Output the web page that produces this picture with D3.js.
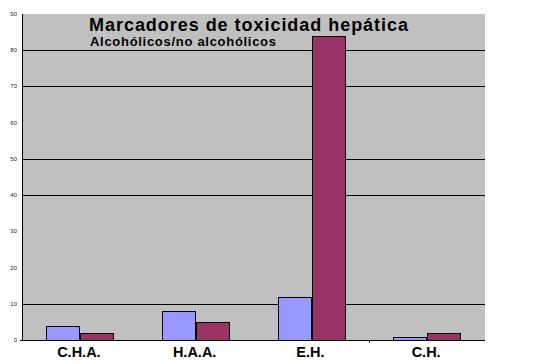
<!DOCTYPE html>
<html>
<head>
<meta charset="utf-8">
<script src="https://cdn.jsdelivr.net/npm/d3@7"></script>
<style>
  html, body { margin: 0; padding: 0; background: #fff; }
  svg { display: block; }
</style>
</head>
<body>
<svg id="chart" width="549" height="364"></svg>
<script>
const categories = ["C.H.A.", "H.A.A.", "E.H.", "C.H."];
const series = ["Alcohólicos", "No alcohólicos"];
const alcoholicos = [4, 8, 12, 0.8];
const noAlcoholicos = [2, 5, 84, 2];
const yTicks = [0, 10, 20, 30, 40, 50, 60, 70, 80, 90];
const gridValues = [10, 40, 50, 70, 80];
const colors = ["#9999FF", "#993366"];
const title = "Marcadores de toxicidad hepática";
const subtitle = "Alcohólicos/no alcohólicos";

(function () {
const svg = d3.select("#chart");
const pLeft = 22, pRight = 485, pTop = 14, pBottom = 340;

const x = d3.scaleBand().domain(categories).range([pLeft, pRight]).paddingInner(0).paddingOuter(0);
const x1 = d3.scaleBand().domain(series).range([0, x.bandwidth()]).paddingInner(0).paddingOuter(0.73);
const y = d3.scaleLinear().domain([0, 90]).range([pBottom, pTop]);

// plot area
svg.append("rect").attr("x", pLeft).attr("y", pTop).attr("width", pRight - pLeft).attr("height", pBottom - pTop)
  .attr("fill", "#C0C0C0");

// gridlines
svg.append("g").selectAll("line").data(gridValues).join("line")
  .attr("x1", pLeft).attr("x2", pRight)
  .attr("y1", d => Math.round(y(d)) + 0.5).attr("y2", d => Math.round(y(d)) + 0.5)
  .attr("stroke", "#000").attr("stroke-width", 1).attr("shape-rendering", "crispEdges");

// bars
const rows = categories.map((c, i) => ({ cat: c, vals: [alcoholicos[i], noAlcoholicos[i]] }));
const g = svg.append("g").selectAll("g").data(rows).join("g")
  .attr("transform", d => `translate(${x(d.cat)},0)`);
g.selectAll("rect").data(d => d.vals.map((v, j) => ({ s: series[j], v, j }))).join("rect")
  .attr("x", d => Math.round(x1(d.s)) + 0.5)
  .attr("y", d => Math.round(y(d.v)) + 0.5)
  .attr("width", Math.round(x1.bandwidth()))
  .attr("height", d => Math.max(0, pBottom - Math.round(y(d.v))))
  .attr("fill", d => colors[d.j])
  .attr("stroke", "#000").attr("stroke-width", 1).attr("shape-rendering", "crispEdges");

// axes lines
svg.append("line").attr("x1", pLeft + 0.5).attr("x2", pLeft + 0.5).attr("y1", pTop).attr("y2", pBottom + 1)
  .attr("stroke", "#000").attr("shape-rendering", "crispEdges");
svg.append("line").attr("x1", pLeft - 2).attr("x2", pRight).attr("y1", pBottom + 0.5).attr("y2", pBottom + 0.5)
  .attr("stroke", "#000").attr("shape-rendering", "crispEdges");
svg.append("line").attr("x1", Math.round(x(categories[3])) + 0.5).attr("x2", Math.round(x(categories[3])) + 0.5)
  .attr("y1", pBottom).attr("y2", pBottom + 3)
  .attr("stroke", "#000").attr("shape-rendering", "crispEdges");

// y tick labels (tiny)
svg.append("g").selectAll("text").data(yTicks).join("text")
  .attr("x", 17).attr("y", d => y(d) + 2)
  .attr("text-anchor", "end")
  .attr("font-family", "Liberation Sans, Arial, sans-serif")
  .attr("font-size", 6).attr("fill", "#222")
  .text(d => d);

// category labels
svg.append("g").selectAll("text").data(categories).join("text")
  .attr("x", d => x(d) + x.bandwidth() / 2 - 1)
  .attr("y", 357)
  .attr("text-anchor", "middle")
  .attr("font-family", "Liberation Sans, Arial, sans-serif")
  .attr("font-size", 14.5).attr("font-weight", "bold").attr("fill", "#000")
  .text(d => d);

// titles
svg.append("text").attr("x", 89).attr("y", 31)
  .attr("font-family", "Liberation Sans, Arial, sans-serif")
  .attr("font-size", 18).attr("font-weight", "bold").attr("fill", "#000")
  .attr("textLength", 319).attr("lengthAdjust", "spacing")
  .text(title);
svg.append("text").attr("x", 90).attr("y", 46)
  .attr("font-family", "Liberation Sans, Arial, sans-serif")
  .attr("font-size", 13).attr("font-weight", "bold").attr("fill", "#000")
  .attr("textLength", 186).attr("lengthAdjust", "spacing")
  .text(subtitle);
})();
</script>
</body>
</html>
